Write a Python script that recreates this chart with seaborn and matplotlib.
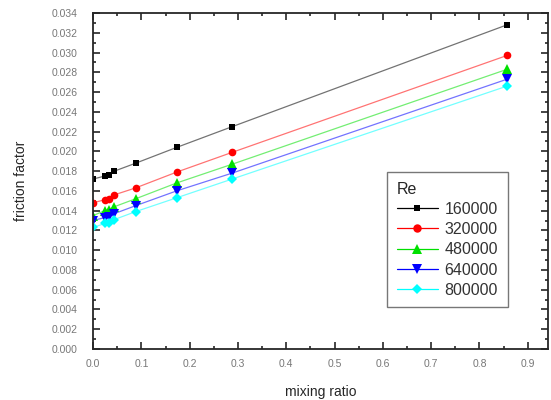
import numpy as np
import pandas as pd
import matplotlib
matplotlib.use("Agg")
import matplotlib.pyplot as plt
from matplotlib.lines import Line2D
from matplotlib.ticker import MultipleLocator, FormatStrFormatter
import seaborn as sns

mixing_ratio = [0.0, 0.024, 0.032, 0.044, 0.088, 0.173, 0.288, 0.857]
re_labels = ["160000", "320000", "480000", "640000", "800000"]
f_160k = [0.0172, 0.0175, 0.0176, 0.0180, 0.0188, 0.0204, 0.0225, 0.0328]
f_320k = [0.0148, 0.0151, 0.0152, 0.0156, 0.0163, 0.0179, 0.0199, 0.0297]
f_480k = [0.0135, 0.0140, 0.0141, 0.0144, 0.0152, 0.0168, 0.0187, 0.0283]
f_640k = [0.0130, 0.0133, 0.0134, 0.0137, 0.0145, 0.0160, 0.0178, 0.0273]
f_800k = [0.0123, 0.0127, 0.0128, 0.0131, 0.0139, 0.0153, 0.0172, 0.0266]

colors = ["black", "red", "#00e000", "blue", "cyan"]
markers = ["s", "o", "^", "v", "D"]
msizes = [4.5, 5.5, 6.5, 6.5, 5]

rows = []
for lab, vals in zip(re_labels, [f_160k, f_320k, f_480k, f_640k, f_800k]):
    for x, y in zip(mixing_ratio, vals):
        rows.append({"mixing ratio": x, "friction factor": y, "Re": lab})
df = pd.DataFrame(rows)

sns.set_style("ticks")
plt.rcParams["font.family"] = ["Liberation Sans", "DejaVu Sans"]

fig = plt.figure(figsize=(5.51, 4.0), dpi=100)
ax = fig.add_axes([0.169, 0.1275, 0.8256, 0.84])

pal = dict(zip(re_labels, colors))
sns.lineplot(data=df, x="mixing ratio", y="friction factor", hue="Re",
             palette=pal, linewidth=0.9, alpha=0.55, legend=False, ax=ax)
for lab, c, m, s in zip(re_labels, colors, markers, msizes):
    sub = df[df["Re"] == lab]
    ax.plot(sub["mixing ratio"], sub["friction factor"], linestyle="none",
            marker=m, color=c, markersize=s, markeredgewidth=0)

ax.set_xlim(0, 0.942)
ax.set_ylim(0, 0.034)
ax.xaxis.set_major_locator(MultipleLocator(0.1))
ax.xaxis.set_minor_locator(MultipleLocator(0.05))
ax.yaxis.set_major_locator(MultipleLocator(0.002))
ax.yaxis.set_minor_locator(MultipleLocator(0.001))
ax.xaxis.set_major_formatter(FormatStrFormatter("%.1f"))
ax.yaxis.set_major_formatter(FormatStrFormatter("%.3f"))
ax.tick_params(which="both", direction="in", top=True, right=True,
               labelsize=7.5, labelcolor="#777777", width=1.2)
ax.tick_params(which="major", length=5)
ax.tick_params(which="minor", length=2.5)
ax.tick_params(axis="y", which="major", pad=11)
ax.tick_params(axis="x", which="major", pad=7)
for sp in ax.spines.values():
    sp.set_linewidth(1.3)

ax.set_xlabel("mixing ratio", fontsize=10, labelpad=12)
ax.set_ylabel("friction factor", fontsize=10, labelpad=17)

handles = [Line2D([], [], color=c, marker=m, markersize=s * 1.1, markeredgewidth=0,
                  linewidth=0.9, alpha=1.0) for c, m, s in zip(colors, markers, msizes)]
leg = ax.legend(handles, re_labels, title="Re", loc="upper left",
                bbox_to_anchor=(0.646, 0.527), borderaxespad=0,
                fontsize=11.5, title_fontsize=11.5,
                frameon=True, fancybox=False, edgecolor="#555555",
                handlelength=2.6, handletextpad=0.4, borderpad=0.6,
                labelspacing=0.33)
leg._legend_box.align = "left"
leg.get_frame().set_linewidth(1.0)
for t in leg.get_texts():
    t.set_color("#333333")
for ln, c in zip(leg.get_lines(), colors):
    ln.set_color(c)

fig.savefig("out.png", dpi=100)
